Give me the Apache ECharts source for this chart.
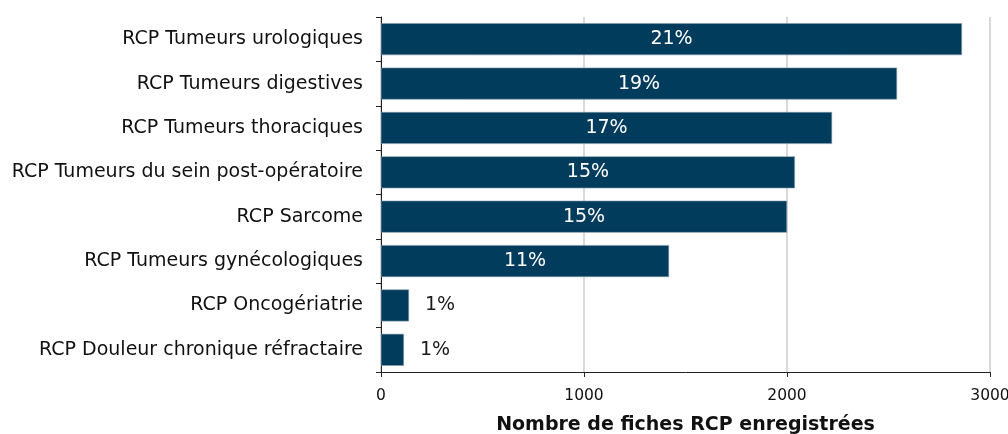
<!DOCTYPE html>
<html><head><meta charset="utf-8">
<script src="https://cdn.jsdelivr.net/npm/echarts@6/dist/echarts.min.js"></script>
<style>html,body{margin:0;padding:0;background:#fff}#c{width:1008px;height:434px}</style>
</head><body><div id="c"></div>
<script>
const categories = ["RCP Tumeurs urologiques","RCP Tumeurs digestives","RCP Tumeurs thoraciques","RCP Tumeurs du sein post-opératoire","RCP Sarcome","RCP Tumeurs gynécologiques","RCP Oncogériatrie","RCP Douleur chronique réfractaire"];
const values = [2862, 2542, 2222, 2039, 2000, 1419, 138, 113];
const percentLabels = ["21%","19%","17%","15%","15%","11%","1%","1%"];
const xTicks = [0, 1000, 2000, 3000];

const FONT = "DejaVu Sans";
const data = values.map((v, i) => {
  const inside = v > 500;
  return {
    value: v,
    label: inside
      ? {show: true, position: 'inside', color: '#ffffff', formatter: percentLabels[i]}
      : {show: true, position: 'right', distance: 16, color: '#1a1a1a', formatter: percentLabels[i]}
  };
});

const chart = echarts.init(document.getElementById('c'), null, {renderer: 'canvas'});
chart.setOption({
  animation: false,
  textStyle: {fontFamily: FONT},
  grid: {left: 381, right: 18, top: 17, bottom: 62, containLabel: false, outerBoundsMode: 'none'},
  xAxis: {
    type: 'value', min: xTicks[0], max: xTicks[xTicks.length - 1], interval: 1000,
    name: 'Nombre de fiches RCP enregistrées', nameLocation: 'middle', nameGap: 44,
    nameTextStyle: {fontFamily: FONT, fontWeight: 'bold', fontSize: 19, color: '#111'},
    axisLine: {show: true, lineStyle: {color: '#222', width: 1}},
    axisTick: {show: true, length: 5, lineStyle: {color: '#222'}},
    axisLabel: {fontFamily: FONT, fontSize: 15.5, color: '#111', margin: 16, formatter: v => String(v)},
    splitLine: {show: true, lineStyle: {color: '#d9d9d9', width: 2}}
  },
  yAxis: {
    type: 'category', data: categories, inverse: true,
    axisLine: {show: true, lineStyle: {color: '#222', width: 1}},
    axisTick: {show: true, length: 5, lineStyle: {color: '#222'}},
    axisLabel: {fontFamily: FONT, fontSize: 19, color: '#111', margin: 18}
  },
  series: [{
    type: 'bar', data: data, barCategoryGap: '28%',
    itemStyle: {color: '#023c5c', borderColor: '#7f9aab', borderWidth: 0.6},
    label: {fontFamily: FONT, fontSize: 19}
  }]
});
</script></body></html>
